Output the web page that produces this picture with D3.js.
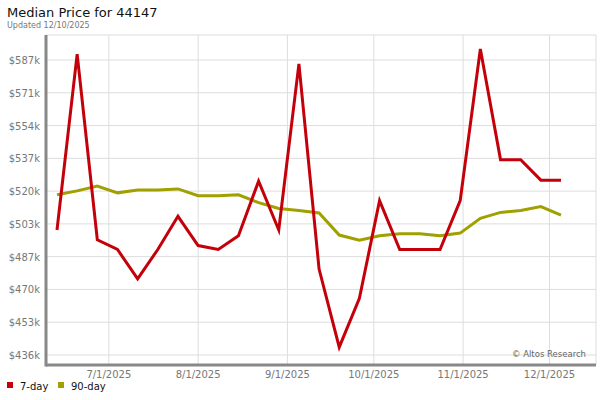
<!DOCTYPE html><html><head><meta charset="utf-8"><script src="https://cdn.jsdelivr.net/npm/d3@7"></script>
<style>body{margin:0;background:#fff}text{font-family:"DejaVu Sans",sans-serif}</style></head><body><svg id="c" width="600" height="400"></svg>
<script>
const dates=["2025-06-13","2025-06-20","2025-06-27","2025-07-04","2025-07-11","2025-07-18","2025-07-25","2025-08-01","2025-08-08","2025-08-15","2025-08-22","2025-08-29","2025-09-05","2025-09-12","2025-09-19","2025-09-26","2025-10-03","2025-10-10","2025-10-17","2025-10-24","2025-10-31","2025-11-07","2025-11-14","2025-11-21","2025-11-28","2025-12-05"];
const day7=[500,590,495,490,475,490,507,492,490,497,525,500,585,480,440,465,515,490,490,490,515,592.6,536,536,525.5,525.5];
const day90=[518,520,522.5,519,520.5,520.5,521,517.5,517.5,518,514,511,510,508.7,497.4,494.8,497,498,498,497,498.4,506,509,510,512,507.6];
const yTicks=[436,453,470,487,503,520,537,554,571,587];
const xTicks=["2025-07-01","2025-08-01","2025-09-01","2025-10-01","2025-11-01","2025-12-01"];
const svg=d3.select("#c"),P=d3.timeParse("%Y-%m-%d");
const L=46,R=596,T=35,B=365;
const x=d3.scaleTime().domain([P("2025-06-13"),P("2025-12-01")]).range([57,547]);
// fit: 7/1 at 110
x.domain([P("2025-06-13"),P("2025-12-05")]).range([57,561]);
const yv=i=>436+i*(151/9);
const y=d3.scaleLinear().domain([436,587]).range([355,60]);
svg.append("text").attr("x",7).attr("y",17).attr("font-size",13).attr("fill","#111").text("Median Price for 44147");
svg.append("text").attr("x",7).attr("y",28).attr("font-size",8).attr("fill","#777").text("Updated 12/10/2025");
const g=svg.append("g");
g.append("line").attr("x1",L).attr("x2",R).attr("y1",T).attr("y2",T).attr("stroke","#ddd");
g.append("line").attr("x1",R).attr("x2",R).attr("y1",T).attr("y2",B).attr("stroke","#ddd");
yTicks.forEach((t,i)=>{const yy=y(yv(i));
g.append("line").attr("x1",L).attr("x2",R).attr("y1",yy).attr("y2",yy).attr("stroke","#ddd");
g.append("text").attr("x",40).attr("y",yy+4).attr("text-anchor","end").attr("font-size",10).attr("fill","#777").text("$"+t+"k");});
xTicks.forEach(t=>{const xx=x(P(t));
g.append("line").attr("x1",xx).attr("x2",xx).attr("y1",T).attr("y2",B).attr("stroke","#ddd");
g.append("text").attr("x",xx).attr("y",378).attr("text-anchor","middle").attr("font-size",10).attr("fill","#777").text(d3.timeFormat("%-m/%-d/%Y")(P(t)));});
g.append("line").attr("x1",L).attr("x2",L).attr("y1",T).attr("y2",B+1.5).attr("stroke","#888").attr("stroke-width",3);
g.append("line").attr("x1",L).attr("x2",R).attr("y1",B).attr("y2",B).attr("stroke","#888").attr("stroke-width",3);
g.append("text").attr("x",586).attr("y",357).attr("text-anchor","end").attr("font-size",8.5).attr("fill","#666").text("© Altos Research");
const line=d3.line().x((d,i)=>x(P(dates[i]))).y(d=>y(d));
svg.append("path").datum(day90).attr("d",line).attr("fill","none").attr("stroke","#a0a000").attr("stroke-width",3);
svg.append("path").datum(day7).attr("d",line).attr("fill","none").attr("stroke","#c4000a").attr("stroke-width",3);
[["7-day","#c4000a",7],["90-day","#a0a000",58]].forEach(([n,c,xx])=>{
svg.append("rect").attr("x",xx).attr("y",382).attr("width",6).attr("height",6).attr("fill",c);
svg.append("text").attr("x",xx+13).attr("y",390).attr("font-size",10).attr("fill","#111").text(n);});
</script></body></html>
